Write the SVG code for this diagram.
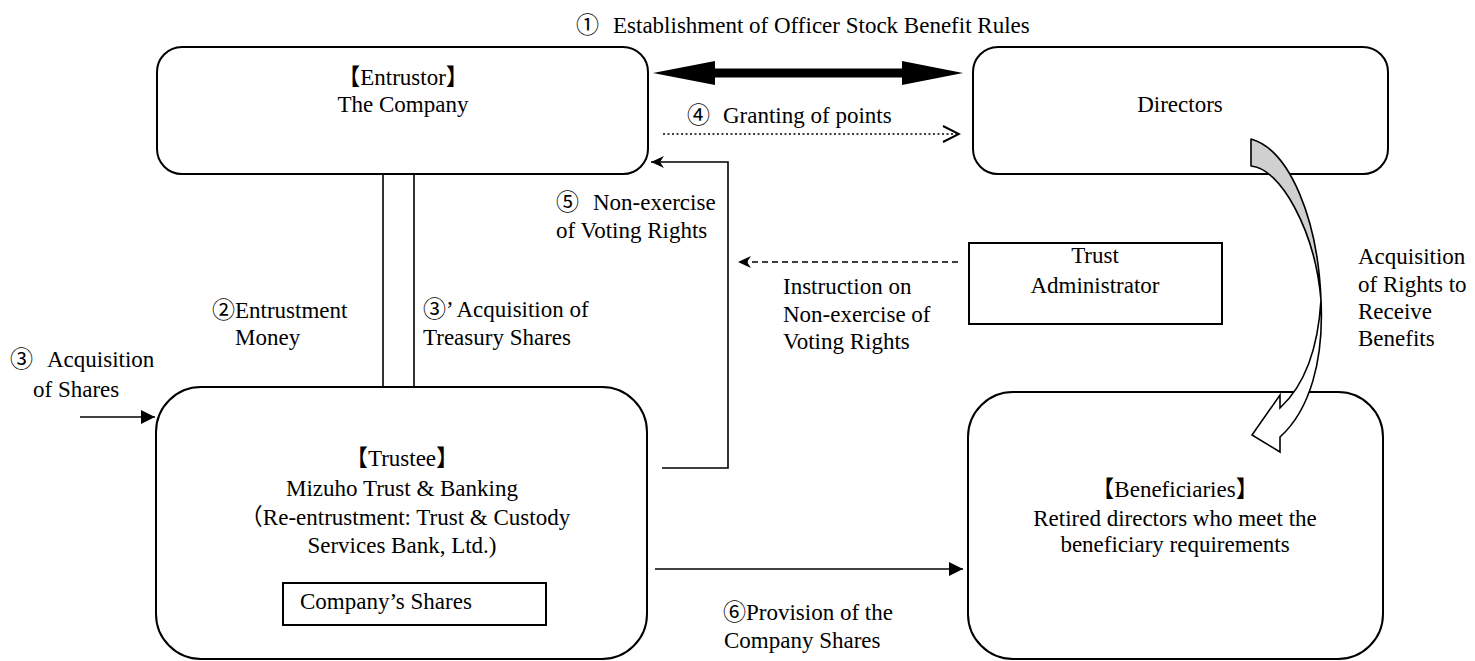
<svg xmlns="http://www.w3.org/2000/svg" width="1475" height="661" viewBox="0 0 1475 661">
<style>
.t{font-family:"Liberation Serif","Times New Roman","Noto Sans CJK JP",serif;font-size:23px;fill:#000}
.m{text-anchor:middle}
.box{fill:#fff;stroke:#000;stroke-width:2}
.ln{fill:none;stroke:#000;stroke-width:1.6}
</style>
<defs>
<marker id="tri" markerUnits="userSpaceOnUse" viewBox="0 0 14 14" refX="14" refY="7" markerWidth="14" markerHeight="14" orient="auto"><path d="M0,0 L14,7 L0,14 Z" fill="#000"/></marker>
<marker id="barb" markerUnits="userSpaceOnUse" viewBox="0 0 14 14" refX="13" refY="7" markerWidth="14" markerHeight="14" orient="auto"><path d="M0,1 L13,7 L0,13 L4,7 Z" fill="#000"/></marker>
<marker id="chev" markerUnits="userSpaceOnUse" viewBox="0 0 20 20" refX="18" refY="10" markerWidth="20" markerHeight="20" orient="auto"><path d="M2,2 L18,10 L2,18" fill="none" stroke="#000" stroke-width="2"/></marker>
</defs>
<rect width="1475" height="661" fill="#fff"/>

<g id="entrustor">
<rect class="box" x="157" y="47" width="491" height="127" rx="25"/>
<text class="t m" x="403" y="85">【Entrustor】</text>
<text class="t m" x="403" y="112">The Company</text>
</g>

<g id="directors">
<rect class="box" x="973" y="47" width="415" height="127" rx="25"/>
<text class="t m" x="1180" y="112">Directors</text>
</g>

<g id="trust-administrator">
<rect class="box" x="969" y="243" width="253" height="81" stroke-width="2.5"/>
<text class="t m" x="1095" y="263">Trust</text>
<text class="t m" x="1095" y="293">Administrator</text>
</g>

<g id="trustee">
<rect class="box" x="156" y="387" width="491" height="272" rx="45"/>
<text class="t m" x="402" y="466">【Trustee】</text>
<text class="t m" x="402" y="496">Mizuho Trust &amp; Banking</text>
<text class="t m" x="405" y="525">（Re-entrustment: Trust &amp; Custody</text>
<text class="t m" x="402" y="553">Services Bank, Ltd.)</text>
<rect class="box" x="283" y="583" width="263" height="42"/>
<text class="t" x="300" y="609">Company’s Shares</text>
</g>

<g id="beneficiaries">
<rect class="box" x="968" y="392" width="415" height="267" rx="45"/>
<text class="t m" x="1175" y="497">【Beneficiaries】</text>
<text class="t m" x="1175" y="526">Retired directors who meet the</text>
<text class="t m" x="1175" y="552">beneficiary requirements</text>
</g>

<g id="connectors">
<path d="M653,73 L715,61 L715,68.5 L902,68.5 L902,61 L963,73 L902,85 L902,77.5 L715,77.5 L715,85 Z" fill="#000"/>
<text class="t"><tspan x="576" y="33">①</tspan><tspan x="613" y="33">Establishment of Officer Stock Benefit Rules</tspan></text>
<line class="ln" x1="663" y1="134" x2="959" y2="134" stroke-dasharray="2,2.5" stroke-width="2" marker-end="url(#chev)"/>
<text class="t"><tspan x="687" y="123">④</tspan><tspan x="723" y="123">Granting of points</tspan></text>
<line class="ln" x1="383" y1="174" x2="383" y2="387"/>
<line class="ln" x1="414" y1="174" x2="414" y2="387"/>
<text class="t"><tspan x="212" y="318">②Entrustment</tspan><tspan x="235" y="345">Money</tspan></text>
<text class="t"><tspan x="423" y="317">③’ Acquisition of</tspan><tspan x="423" y="345">Treasury Shares</tspan></text>
<line class="ln" x1="80" y1="417" x2="155" y2="417" marker-end="url(#tri)"/>
<text class="t"><tspan x="10" y="367">③</tspan><tspan x="47" y="367">Acquisition</tspan><tspan x="33" y="397">of Shares</tspan></text>
<path class="ln" d="M662,468 L728,468 L728,162 L651,162" marker-end="url(#barb)"/>
<text class="t"><tspan x="556" y="210">⑤</tspan><tspan x="593" y="210">Non-exercise</tspan><tspan x="556" y="238">of Voting Rights</tspan></text>
<line class="ln" x1="958" y1="262" x2="738" y2="262" stroke-dasharray="6,4" marker-end="url(#barb)"/>
<text class="t"><tspan x="783" y="294">Instruction on</tspan><tspan x="783" y="322">Non-exercise of</tspan><tspan x="783" y="349">Voting Rights</tspan></text>
<line class="ln" x1="655" y1="569" x2="963" y2="569" marker-end="url(#tri)"/>
<text class="t"><tspan x="723" y="620">⑥Provision of the</tspan><tspan x="724" y="648">Company Shares</tspan></text>
<path d="M1251,139 C1290,150 1318,220 1321,300 C1315,230 1280,168 1251,166 Z" fill="#d0d0d0" stroke="#000" stroke-width="1.6" stroke-linejoin="round"/>
<path d="M1321,300 C1324,360 1310,410 1280,437 L1280,452 L1252,435 L1280,395 L1280,408 C1305,385 1318,350 1321,300 Z" fill="#fff" stroke="#000" stroke-width="1.6"/>
<text class="t"><tspan x="1358" y="264">Acquisition</tspan><tspan x="1358" y="292">of Rights to</tspan><tspan x="1358" y="319">Receive</tspan><tspan x="1358" y="346">Benefits</tspan></text>
</g>
</svg>
